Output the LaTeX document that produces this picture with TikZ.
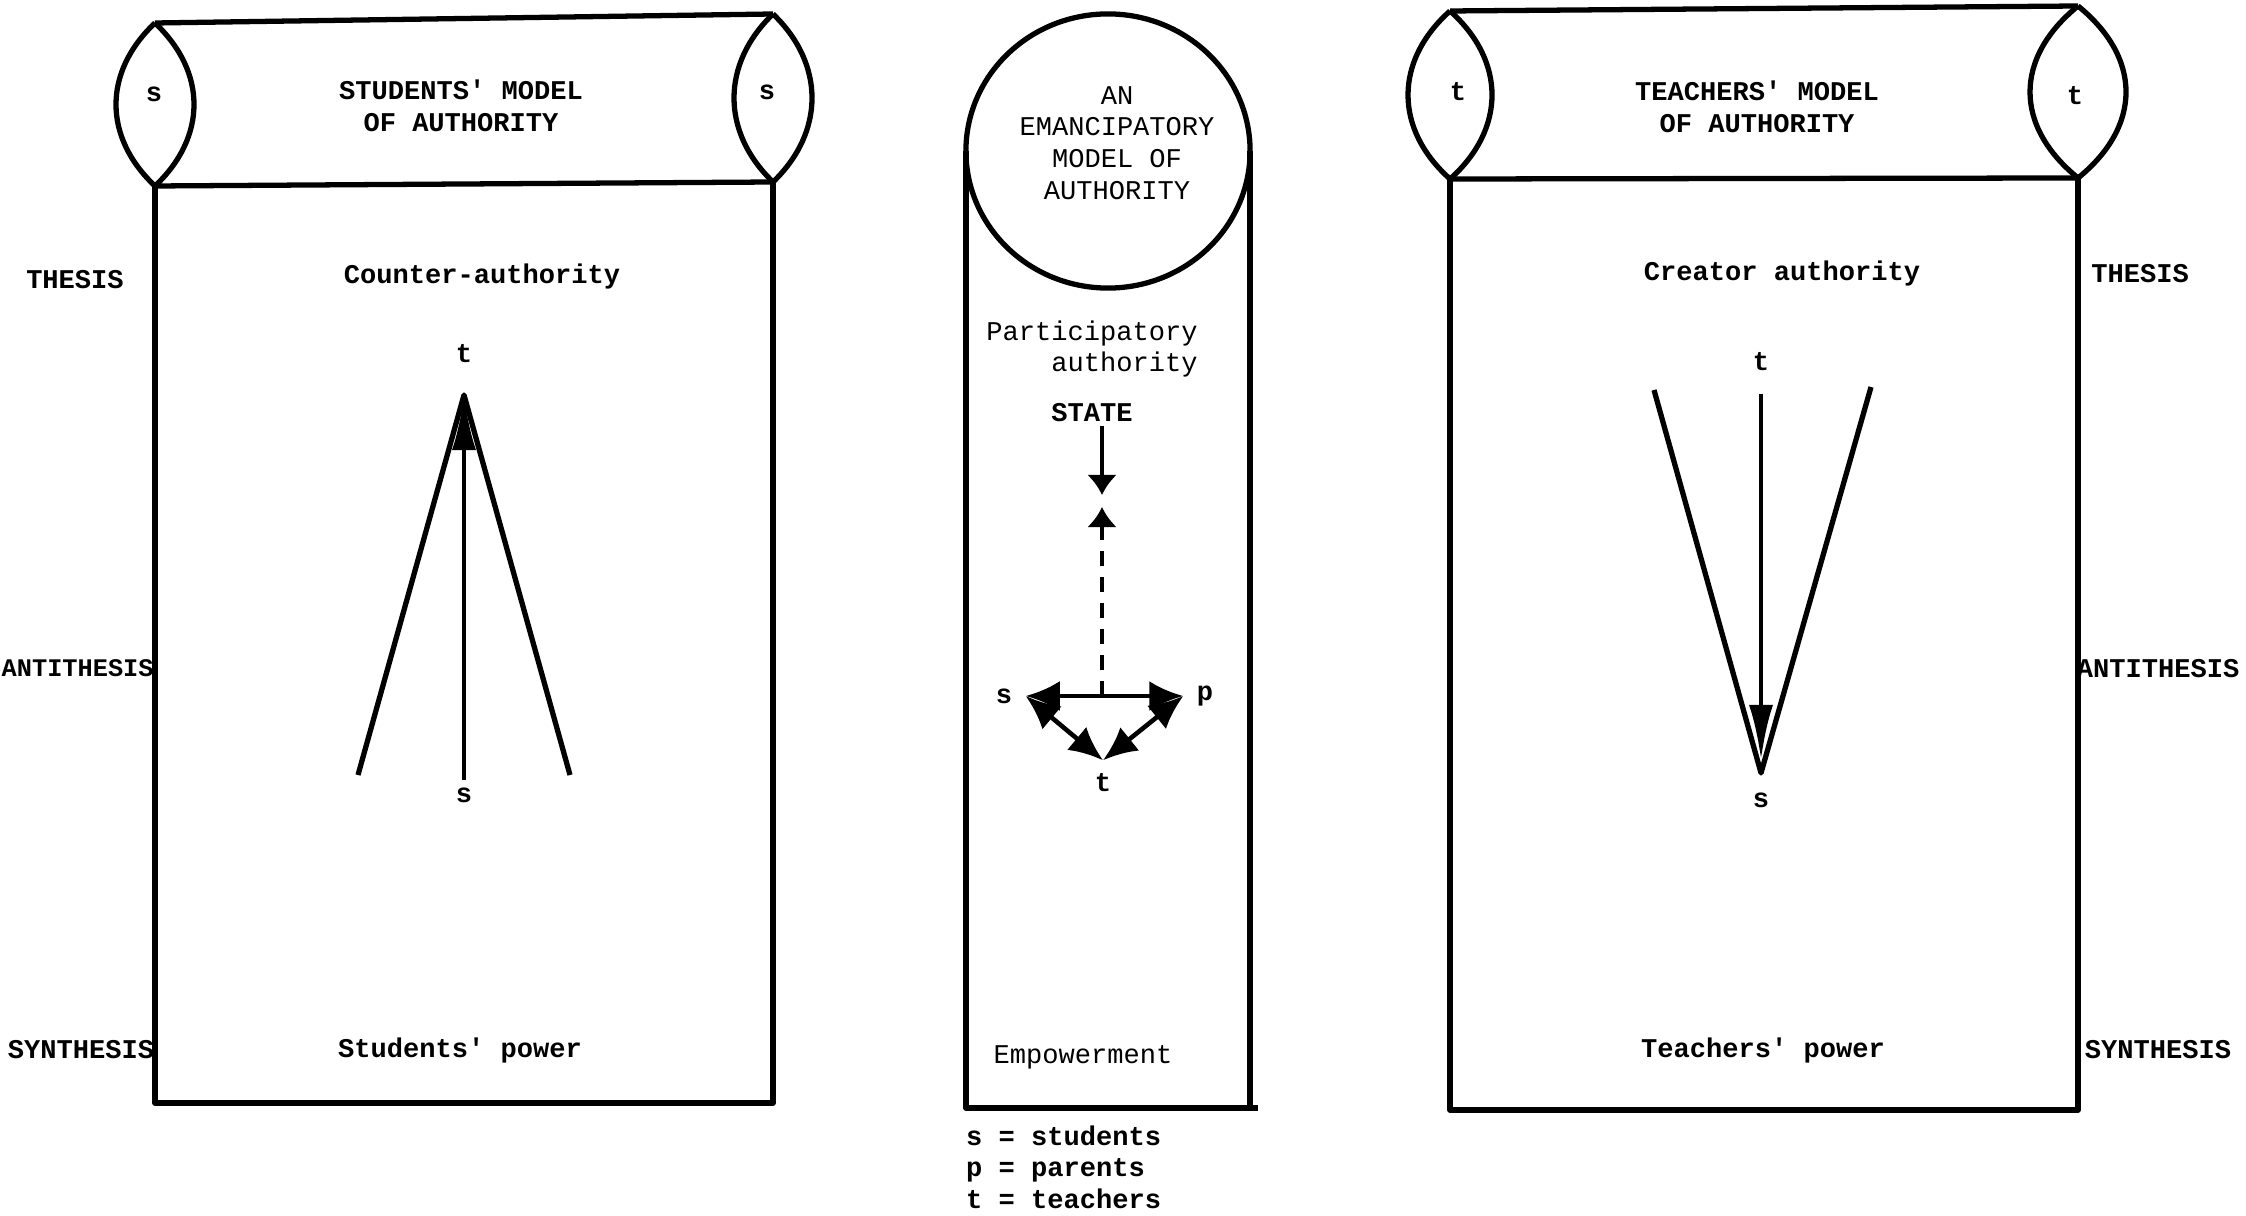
\documentclass[tikz,border=0pt]{standalone}
\usepackage{fontspec}
\setmonofont{Liberation Mono}
\usetikzlibrary{arrows.meta, positioning}

\begin{document}
\begin{tikzpicture}[
    x=0.01cm, y=-0.01cm,
    outline/.style={line width=1.5pt, line join=round},
    heading/.style={font=\ttfamily\bfseries\fontsize{7.7}{9}\selectfont, align=center, inner sep=1pt},
    plain_text/.style={font=\ttfamily\fontsize{7.7}{9}\selectfont, align=center, inner sep=1pt},
    letter/.style={font=\ttfamily\bfseries\fontsize{7.7}{9}\selectfont, inner sep=2pt},
    corner/.style={letter, circle, minimum size=0.42cm, inner sep=0pt},
    long_arrow/.style={line width=1.4pt, >={Latex[length=5.5mm, width=2.4mm]}, ->},
    short_arrow/.style={line width=1.3pt, >={Latex[length=2mm, width=3mm]}, ->},
    both_arrow/.style={line width=1.3pt, >={Latex[length=3.4mm, width=3mm]}, <->}
]
\useasboundingbox (0,0) rectangle (2246,1216);

% Students' model: cylinder on top
\draw[outline] (155,23) -- (773,14);
\draw[outline] (155,186) -- (773,182);
\draw[outline] (155,23) .. controls +(-52,49) and +(-52,-49) .. (155,186)
    .. controls +(52,-49) and +(52,49) .. (155,23);
\draw[outline] (773,14) .. controls +(-52,50) and +(-52,-50) .. (773,182)
    .. controls +(52,-50) and +(52,50) .. (773,14);
\draw[outline] (155,186) -- (155,1103) -- (773,1103) -- (773,182);

\node (students_title) at (461,106) [heading] {STUDENTS' MODEL\\OF AUTHORITY};
\node (s_left_lens) at (154,94) [letter] {s};
\node (s_right_lens) at (767,92) [letter] {s};

% Students' model: labels and fan
\node (thesis_left) at (75,280) [heading] {THESIS};
\node (counter_node) at (482,277) [heading] {Counter-authority};
\coordinate (apex_left) at (464,395);
\node (t_left) [letter, above=0.25cm of apex_left] {t};
\node (s_left) at (464,795) [letter] {s};
\draw[outline] (358,775) -- (apex_left) -- (570,775);
\draw[long_arrow] (s_left) -- (apex_left);

\node (antithesis_left) at (1,668) [heading, anchor=west, inner sep=0pt,
    font=\ttfamily\bfseries\fontsize{7.2}{9}\selectfont] {ANTITHESIS};
\node (synthesis_left) at (81,1050) [heading] {SYNTHESIS};
\node (students_power) at (460,1050) [heading] {Students' power};

% Emancipatory model: circle and column
\draw[outline] (1108,151) ellipse [x radius=1.42cm, y radius=1.37cm];
\draw[outline] (966,151) -- (966,1108) -- (1258,1108);
\draw[outline] (1250,151) -- (1250,1108);

\node (emancipatory_title) at (1117,143) [plain_text] {AN\\EMANCIPATORY\\MODEL OF\\AUTHORITY};
\node (participatory) at (1092,349) [plain_text, align=right] {Participatory\\authority};
\node (state) at (1092,413) [heading] {STATE};

% Triangle s, p, t
\coordinate (state_tip) at (1102,495);
\coordinate (up_tip) at (1102,507);
\node (s_mid) at (1004,696) [corner] {s};
\node (p_mid) at (1205,696) [corner] {p};
\node (t_mid) at (1103,783) [corner, minimum size=0.44cm] {t};
\draw[short_arrow] (state.south -| state_tip) -- (state_tip);
\draw[short_arrow, dash pattern=on 0.15cm off 0.11cm] (up_tip |- s_mid) -- (up_tip);
\draw[both_arrow] (s_mid.east) -- (p_mid.west);
\draw[both_arrow] (s_mid.east) -- (t_mid.north);
\draw[both_arrow] (p_mid.west) -- (t_mid.north);

\node (empowerment) at (1083,1057) [plain_text] {Empowerment};
\node (legend) at (962,1167) [heading, anchor=west, align=left] {s = students\\p = parents\\t = teachers};

% Teachers' model: cylinder on top
\draw[outline] (1450,11) -- (2078,6);
\draw[outline] (1450,179) -- (2078,178);
\draw[outline] (1450,11) .. controls +(-56,50) and +(-56,-50) .. (1450,179)
    .. controls +(56,-50) and +(56,50) .. (1450,11);
\draw[outline] (2078,6) .. controls +(-64,52) and +(-64,-52) .. (2078,178)
    .. controls +(64,-52) and +(64,52) .. (2078,6);
\draw[outline] (1450,179) -- (1450,1110) -- (2078,1110) -- (2078,178);

\node (teachers_title) at (1757,107) [heading] {TEACHERS' MODEL\\OF AUTHORITY};
\node (t_left_lens) at (1458,92) [letter] {t};
\node (t_right_lens) at (2075,96) [letter] {t};

% Teachers' model: labels and fan
\node (creator_node) at (1782,274) [heading] {Creator authority};
\node (thesis_right) at (2140,274) [heading] {THESIS};
\node (t_right) at (1761,362) [letter] {t};
\coordinate (apex_right) at (1761,773);
\coordinate (tip_right) at (1761,760);
\node (s_right) [letter, below=0.12cm of apex_right] {s};
\draw[outline] (1654,390) -- (apex_right) -- (1871,387);
\draw[long_arrow, shorten <=1.5mm] (t_right) -- (tip_right);

\node (antithesis_right) at (2158,669) [heading] {ANTITHESIS};
\node (synthesis_right) at (2158,1050) [heading] {SYNTHESIS};
\node (teachers_power) at (1763,1050) [heading] {Teachers' power};

\end{tikzpicture}
\end{document}
